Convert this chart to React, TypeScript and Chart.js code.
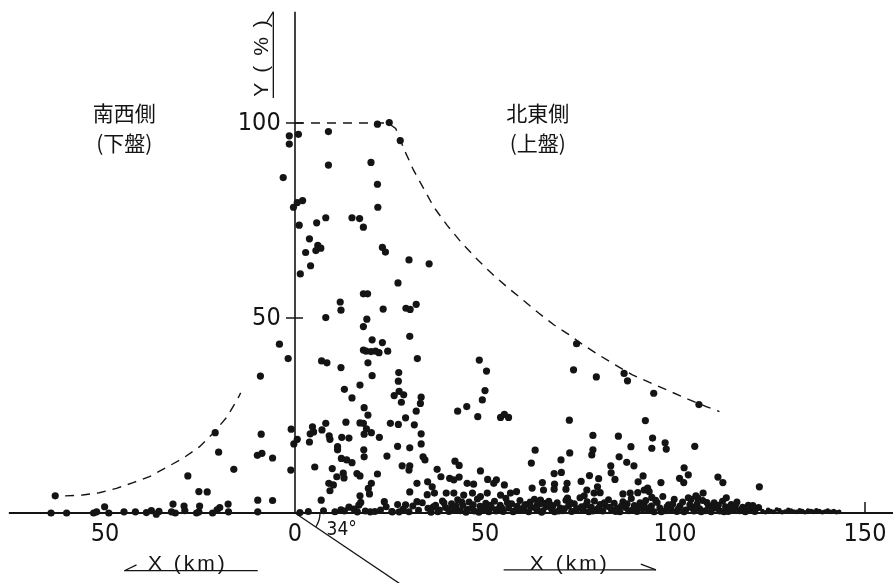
import React, { useEffect, useRef } from "react";
import { Chart, registerables } from "chart.js";

Chart.register(...registerables);

type P = [number, number];

// Axis ranges (X in km, Y in %)
const xRange = { min: -77.63, max: 157.37 };
const yRange = { min: -17.95, max: 131.54 };
const xTickValues = [-50, 0, 50, 100, 150];
const yTickValues = [50, 100];

// Dashed envelopes
const envelopeNE: P[] = [
  [0, 100], [24.5, 100], [26.5, 98.6], [29, 92.6], [31.2, 87.9], [33.4, 84], [36.5, 78.5],
  [40, 73.8], [44, 69.1], [48, 65], [52, 61.2], [56, 57.8], [60, 54.6], [64.2, 51.2],
  [68.2, 48.2], [72, 45.8], [76, 43], [80, 40.5], [84.4, 37.9], [88.8, 35.4], [93.7, 33.3],
  [98.9, 31.1], [103.4, 29.2], [108.2, 27.3], [111.7, 26],
];
const envelopeSW: P[] = [
  [-60.5, 4.4], [-55.9, 4.6], [-51.5, 5.2], [-47, 6.3], [-42.6, 7.8], [-38.3, 9.3],
  [-33.8, 11.7], [-29.5, 14], [-25.1, 17], [-21.6, 20.4], [-18, 24.5], [-15, 29.4], [-14.3, 30.8],
];

// Axis lines, fault (dip) line and angle arc
const xAxisLine: P[] = [[-75.3, 0], [157.37, 0]];
const yAxisLine: P[] = [[0, 0], [0, 128.5]];
const dipLine: P[] = [[0, 0], [28, -18.4]];
const dipArc: P[] = [[6.58, 0], [6.48, -1.11], [6.18, -2.19], [5.7, -3.21], [5.45, -3.58]];

// North-east side (hanging wall) observations
const pointsNE: P[] = [
  [21.7, 99.7], [24.8, 100.1], [27.7, 95.5], [8.8, 97.8], [0.9, 97.1], [8.8, 89.2], [20.0, 89.9],
  [21.7, 84.3], [2.0, 80.1], [0.6, 79.6], [21.8, 78.4], [8.1, 75.7], [15.0, 75.7], [17.0, 75.5],
  [18.0, 73.3], [5.7, 74.4], [1.1, 73.8], [3.8, 70.3], [6.0, 68.6], [6.8, 67.9], [5.5, 67.3],
  [2.8, 66.8], [23.0, 68.1], [23.8, 66.9], [30.0, 64.9], [35.3, 63.9], [4.1, 63.4], [1.4, 61.3],
  [27.1, 59.0], [18.0, 56.2], [19.1, 56.2], [11.9, 54.1], [12.1, 52.0], [31.9, 53.5], [29.2, 52.5],
  [30.3, 52.2], [23.2, 52.3], [8.1, 50.1], [18.9, 49.7], [18.0, 47.8],
  [30.2, 45.3], [20.3, 44.4], [23.0, 43.7], [18.0, 41.8], [18.7, 41.5], [20.0, 41.4], [21.2, 41.5],
  [22.1, 41.1], [24.4, 41.5], [7.0, 39.0], [8.4, 38.5], [19.2, 38.5], [32.2, 39.6], [12.1, 37.3],
  [20.3, 35.2], [27.3, 36.0], [27.2, 33.8], [13.0, 31.7], [17.1, 32.8], [15.0, 29.5], [26.1, 30.1],
  [27.4, 31.2], [28.6, 30.3], [28.0, 28.4], [33.2, 29.7], [33.0, 28.1], [18.2, 27.0], [19.2, 25.1],
  [31.9, 26.1], [29.1, 24.4], [48.5, 39.2], [50.4, 36.4], [50.0, 31.4], [49.3, 29.0], [42.8, 26.1],
  [45.2, 27.3], [48.1, 24.7], [54.1, 24.5], [55.1, 25.3], [56.2, 24.5],
  [4.6, 22.1], [4.0, 20.3], [4.9, 20.8], [8.1, 23.0], [7.1, 21.3], [9.0, 19.8], [13.4, 23.3],
  [17.1, 23.1], [18.0, 23.0], [18.8, 21.6], [20.1, 20.6], [18.2, 20.2], [25.1, 23.0], [27.2, 22.7],
  [31.4, 22.6], [33.2, 20.3], [22.2, 19.4], [12.3, 19.4], [14.2, 19.2], [3.8, 18.2], [9.2, 18.9],
  [0.6, 18.9], [11.2, 17.0], [11.2, 16.2], [18.1, 16.2], [18.2, 14.4], [27.0, 17.1], [30.2, 16.7],
  [33.2, 17.7], [24.2, 14.6], [33.7, 14.4], [34.2, 13.6], [12.2, 14.0], [13.6, 13.6], [15.0, 12.9],
  [5.2, 11.8], [9.8, 11.4], [12.7, 10.2], [12.9, 9.0], [11.0, 9.3], [16.3, 10.1], [17.1, 9.5],
  [21.7, 10.0], [28.2, 12.1], [30.2, 12.1], [30.0, 11.0], [42.1, 13.3], [43.2, 12.2], [37.4, 11.2],
  [38.4, 9.3], [40.7, 8.9], [41.8, 8.5], [43.2, 9.2], [48.8, 10.8], [50.7, 8.6], [53.0, 8.5],
  [55.1, 7.2], [8.9, 7.6], [10.1, 7.2], [9.2, 5.7], [20.1, 7.6], [32.1, 7.6], [34.9, 8.0],
  [30.2, 5.4], [19.3, 6.3], [19.6, 4.9], [17.1, 4.4], [17.3, 2.7], [16.8, 2.0], [6.9, 3.3],
  [23.5, 2.9], [29.1, 2.1], [36.1, 6.7], [36.7, 5.1], [34.8, 4.7], [39.8, 5.1], [41.8, 5.1],
  [45.3, 7.6], [47.0, 7.4], [44.4, 4.6], [46.7, 5.1], [48.8, 4.2], [50.6, 5.1], [52.3, 7.6],
  [54.1, 4.6], [56.7, 5.1], [32.1, 2.9], [12.1, 0.8], [14.2, 1.5], [16.4, 0.3], [19.8, 0.3],
  [25.6, 0.3], [27.4, 0.3], [1.3, 0.1],
  [74.1, 43.4], [73.3, 36.7], [79.3, 34.9], [86.6, 35.8], [87.5, 33.9], [94.4, 30.7], [106.3, 27.8],
  [72.2, 23.8], [92.2, 23.7], [78.4, 19.9], [85.1, 19.7], [63.2, 16.1], [72.3, 15.4], [78.4, 16.2],
  [78.1, 14.9], [88.4, 17.0], [94.1, 19.2], [93.9, 16.6], [97.4, 18.0], [97.7, 16.4], [105.2, 17.1],
  [62.2, 12.8], [70.0, 13.6], [85.3, 14.4], [87.3, 13.0], [89.2, 12.1], [83.1, 12.1], [83.2, 10.3],
  [102.4, 11.6], [68.2, 10.1], [70.1, 10.4], [77.5, 9.6], [79.9, 8.8], [84.2, 8.6], [91.6, 9.5],
  [90.3, 8.0], [101.2, 8.9], [103.5, 9.8], [102.3, 7.8], [111.3, 9.2], [112.6, 7.8], [96.3, 7.8],
  [75.3, 8.1], [65.1, 7.8], [65.4, 5.9], [68.3, 7.4], [68.2, 6.1], [71.6, 7.6], [71.3, 6.1],
  [58.3, 5.5], [62.4, 6.4], [76.8, 5.9], [76.1, 4.4], [78.7, 5.1], [79.6, 6.7], [80.3, 5.2],
  [86.3, 4.9], [88.2, 5.1], [90.2, 5.2], [91.9, 5.9], [92.8, 6.4], [93.9, 4.0], [93.2, 5.5],
  [107.4, 5.1], [105.5, 4.4], [104.2, 3.5], [106.0, 3.8], [113.5, 3.9], [122.2, 6.7], [64.6, 3.3],
  [66.0, 2.5], [63.8, 2.1], [71.7, 3.8], [72.2, 2.5],
];

// Dense band of low values on the north-east side
const bandPoints: P[] = [
  [3.5, 0.4], [7.5, 0.6], [10.5, 0.3], [13, 0.5], [15.5, 1.0], [18.5, 0.5], [21, 0.4],
  [22.5, 0.8], [24, 1.6], [25.5, 0.4], [27, 2.2], [28.5, 1.0], [30, 0.3], [31, 1.8], [32.5, 0.7],
  [33.5, 2.6], [35, 1.2], [35.8, 0.2], [37, 2.0], [38, 0.8], [38.8, 3.1], [39.6, 1.4], [40.5, 0.4],
  [41.2, 2.4], [42, 1.0], [42.8, 3.4], [43.5, 0.6], [44.2, 1.9], [45, 0.2], [45.8, 2.8], [46.5, 1.2],
  [47.2, 0.5], [48, 3.6], [48.7, 1.7], [49.5, 0.8], [50.2, 2.5], [51, 0.3], [51.7, 1.4], [52.5, 3.0],
  [53.2, 0.9], [54, 2.0], [54.8, 0.4], [55.5, 3.8], [56.2, 1.3], [57, 2.4], [57.8, 0.6], [58.5, 1.7],
  [59.2, 3.2], [60, 0.9], [60.7, 2.2], [61.5, 0.3], [62.2, 1.5], [63, 3.5], [63.7, 0.8], [64.4, 2.3],
  [65.2, 0.5], [66, 1.6], [66.8, 3.0], [67.5, 1.0], [68.3, 0.3], [69, 2.6], [69.8, 1.3], [70.5, 0.6],
  [71.3, 3.3], [72, 1.8], [72.8, 0.4], [73.5, 2.4], [74.3, 1.1], [75, 3.9], [75.8, 0.7], [76.5, 2.0],
  [77.3, 0.3], [78, 1.5], [78.8, 3.1], [79.5, 0.9], [80.3, 2.2], [81, 0.5], [81.8, 1.7], [82.5, 3.4],
  [83.3, 0.8], [84, 2.5], [84.8, 1.2], [85.5, 0.3], [86.3, 2.9], [87, 1.4], [87.8, 0.6], [88.5, 3.7],
  [89.3, 1.9], [90, 0.4], [90.8, 2.6], [91.5, 1.1], [92.3, 3.2], [93, 0.7], [93.8, 1.8], [94.5, 0.3],
  [95.3, 2.7], [96, 1.3], [96.8, 4.2], [97.5, 0.6], [98.3, 2.1], [99, 1.0], [99.8, 3.5], [100.5, 0.4],
  [101.3, 1.8], [102, 2.8], [102.8, 0.8], [103.5, 3.9], [104.3, 1.4], [105, 0.5], [105.8, 2.3],
  [106.5, 1.1], [107.3, 3.2], [108, 0.6], [108.8, 1.9], [109.5, 0.3], [110.3, 2.6], [111, 1.2],
  [111.8, 0.5], [112.5, 3.0], [113.3, 1.6], [114, 0.4], [114.8, 2.2], [115.5, 1.0], [116.3, 2.8],
  [117, 0.6], [117.8, 1.5], [118.5, 0.3], [119.3, 2.0], [120, 0.9], [121, 0.4], [122, 1.4],
  [36.4, 1.6], [37.6, 0.3], [39.2, 2.6], [40.9, 1.0], [42.4, 1.8], [43.9, 2.8], [45.4, 0.9],
  [46.9, 2.1], [48.4, 0.2], [49.9, 1.2], [51.4, 2.0], [52.9, 0.5], [54.4, 1.3], [55.9, 2.6],
  [57.4, 0.3], [58.9, 1.0], [60.4, 1.7], [61.9, 2.8], [63.4, 1.2], [64.9, 0.2], [66.4, 2.2],
  [67.9, 1.9], [69.4, 0.5], [70.9, 1.1], [72.4, 2.7], [73.9, 0.8], [75.4, 1.6], [76.9, 2.9],
  [78.4, 0.5], [79.9, 1.3], [81.4, 2.6], [82.9, 1.5], [84.4, 0.4], [85.9, 1.8], [87.4, 2.4],
  [88.9, 0.9], [90.4, 1.6], [91.9, 2.0], [93.4, 1.3], [94.9, 3.3], [96.4, 0.3], [97.9, 1.6],
  [99.4, 2.3], [100.9, 1.1], [102.4, 0.3], [103.9, 2.1], [105.4, 1.6], [106.9, 0.3], [108.4, 2.7],
  [109.9, 1.3], [111.4, 2.0], [112.9, 0.3], [114.4, 1.3], [115.9, 2.0], [117.4, 0.9], [118.9, 1.1],
  [120.5, 1.9],
];

// Sparse small trail far from the fault
const trailPoints: P[] = [
  [123, 0.5], [123.8, 0.2], [124.5, 0.8], [125.2, 0.5], [126, 0.3], [126.8, 0.9], [127.5, 0.7],
  [128.2, 0.2], [129, 0.4], [129.8, 0.8], [130.5, 0.6], [131.2, 0.4], [132, 0.3], [132.8, 0.7],
  [133.5, 0.5], [134.2, 0.2], [135, 0.6], [135.8, 0.5], [136.5, 0.3], [137.2, 0.7], [138, 0.5],
  [138.8, 0.2], [139.5, 0.4], [140.2, 0.6], [141, 0.3], [141.8, 0.5], [142.5, 0.2], [143.2, 0.3],
];

// South-west side (footwall) observations
const pointsSW: P[] = [
  [-1.5, 96.7], [-1.5, 94.6], [-3.1, 86.0], [-0.4, 78.4], [-4.1, 43.3], [-1.8, 39.6], [-9.1, 35.1],
  [-8.9, 20.2], [-1.0, 21.5], [-0.3, 17.7], [-9.9, 14.8], [-8.7, 15.3], [-5.9, 14.1], [-1.1, 11.0],
  [-21.0, 20.6], [-20.1, 15.6], [-16.1, 11.2], [-28.2, 9.5], [-25.3, 5.5], [-23.1, 5.4], [-9.8, 3.3],
  [-5.9, 3.2], [-63.1, 4.4], [-64.2, 0], [-60.1, 0], [-53.0, 0], [-52.2, 0.3], [-50.1, 1.6],
  [-49.0, 0], [-45.0, 0.3], [-42.0, 0.3], [-39.1, 0.1], [-37.8, 0.6], [-36.5, -0.3], [-35.8, 0.4],
  [-32.1, 2.3], [-32.5, 0.3], [-31.5, 0], [-29.2, 1.8], [-29.0, 0.6], [-25.1, 1.8], [-25.3, 0.3],
  [-25.9, 0], [-21.7, 0], [-20.5, 0.8], [-19.8, 1.4], [-17.6, 2.3], [-17.5, 0.3], [-9.8, 0.3],
];

const sideLabels = [
  { text: "南西側", x: -44.9, y: 102.6 },
  { text: "(下盤)", x: -44.9, y: 94.9 },
  { text: "北東側", x: 63.9, y: 102.6 },
  { text: "(上盤)", x: 63.9, y: 94.9 },
];

const INK = "#141414";
const NARROW = '"DejaVu Sans Condensed", "Liberation Sans Narrow", sans-serif';

const toXY = (arr: P[]) => arr.map(([x, y]) => ({ x, y }));

const decorations = {
  id: "decorations",
  afterDatasetsDraw(chart: any) {
    const ctx: CanvasRenderingContext2D = chart.ctx;
    const xs = chart.scales.x;
    const ys = chart.scales.y;
    const X = (v: number) => xs.getPixelForValue(v);
    const Y = (v: number) => ys.getPixelForValue(v);
    const seg = (x1: number, y1: number, x2: number, y2: number) => {
      ctx.beginPath();
      ctx.moveTo(x1, y1);
      ctx.lineTo(x2, y2);
      ctx.stroke();
    };
    ctx.save();
    ctx.strokeStyle = INK;
    ctx.fillStyle = INK;
    ctx.lineWidth = 1.5;

    // y tick crosses
    for (const v of yTickValues) seg(X(0) - 9, Y(v), X(0) + 8, Y(v));
    // small upward tick at 150
    seg(X(150), Y(0), X(150), Y(0) - 11);

    // side labels
    ctx.font = '21px "Noto Sans CJK JP", sans-serif';
    ctx.textAlign = "center";
    ctx.textBaseline = "middle";
    sideLabels.forEach((l) => ctx.fillText(l.text, X(l.x), Y(l.y)));

    // dip angle
    ctx.font = `19px ${NARROW}`;
    ctx.fillText("34°", X(12.3), Y(-4.4));

    // X (km) captions
    ctx.font = '21px "Liberation Sans", sans-serif';
    (ctx as any).letterSpacing = "3px";
    ctx.fillText("X (km)", X(-28.2), Y(-13.1));
    ctx.fillText("X (km)", X(72.3), Y(-13.1));
    (ctx as any).letterSpacing = "0px";
    ctx.lineWidth = 1.3;
    seg(X(-44.9), Y(-14.8), X(-9.8), Y(-14.8));
    seg(X(-44.9), Y(-14.8), X(-41.7), Y(-13.3));
    seg(X(54.9), Y(-14.6), X(95.0), Y(-14.6));
    seg(X(95.0), Y(-14.6), X(91.0), Y(-13.1));

    // Y (%) caption, rotated, reading upward from its start
    ctx.save();
    ctx.translate(X(-8.6), Y(106.7));
    ctx.rotate(-Math.PI / 2);
    ctx.font = '21px "Liberation Sans", sans-serif';
    ctx.textAlign = "left";
    (ctx as any).letterSpacing = "10px";
    ctx.fillText("Y(%)", 0, 0);
    ctx.restore();
    seg(X(-5.7), Y(106.4), X(-5.7), Y(128.5));
    seg(X(-5.7), Y(128.5), X(-7.4), Y(125.9));

    ctx.restore();
  },
};

const noSpace = (horizontal: boolean) => (s: any) => {
  if (horizontal) s.height = 0;
  else s.width = 0;
  s.paddingTop = 0;
  s.paddingBottom = 0;
  s.paddingLeft = 0;
  s.paddingRight = 0;
};

export default function App() {
  const ref = useRef<HTMLCanvasElement>(null);

  useEffect(() => {
    if (!ref.current) return;
    const lineDs = (data: P[], width: number, dash: number[] = []) => ({
      data: toXY(data),
      showLine: true,
      pointRadius: 0,
      borderColor: INK,
      borderWidth: width,
      borderDash: dash,
      fill: false,
      tension: 0,
    });
    const dotDs = (data: P[], r: number) => ({
      data: toXY(data),
      showLine: false,
      pointRadius: r,
      pointBackgroundColor: INK,
      pointBorderColor: INK,
      pointBorderWidth: 0,
    });
    const chart = new Chart(ref.current, {
      type: "scatter",
      data: {
        datasets: [
          lineDs(envelopeNE, 1.4, [9, 7]),
          lineDs(envelopeSW, 1.4, [9, 7]),
          lineDs(xAxisLine, 2),
          lineDs(yAxisLine, 1.6),
          lineDs(dipLine, 1.3),
          { ...lineDs(dipArc, 1.3), tension: 0.4 },
          dotDs(trailPoints, 2.3),
          dotDs(bandPoints, 3.5),
          dotDs(pointsNE, 3.6),
          dotDs(pointsSW, 3.6),
        ] as any,
      },
      options: {
        animation: false,
        responsive: false,
        devicePixelRatio: 1,
        events: [],
        layout: { padding: 0, autoPadding: false } as any,
        plugins: { legend: { display: false }, tooltip: { enabled: false } },
        scales: {
          x: {
            type: "linear",
            min: xRange.min,
            max: xRange.max,
            position: { y: 0 } as any,
            grid: { display: false, drawTicks: false },
            border: { display: false },
            afterBuildTicks: (s: any) => {
              s.ticks = xTickValues.map((v) => ({ value: v }));
            },
            afterFit: noSpace(true),
            ticks: {
              autoSkip: false,
              maxRotation: 0,
              padding: 7,
              color: INK,
              font: { family: NARROW, size: 25 },
              callback: (v: any) => String(Math.abs(Number(v))),
            },
          },
          y: {
            type: "linear",
            min: yRange.min,
            max: yRange.max,
            position: { x: 0 } as any,
            grid: { display: false, drawTicks: false },
            border: { display: false },
            afterBuildTicks: (s: any) => {
              s.ticks = yTickValues.map((v) => ({ value: v }));
            },
            afterFit: noSpace(false),
            ticks: {
              autoSkip: false,
              color: INK,
              font: { family: NARROW, size: 25 },
              callback: (v: any) => String(v) + "  ",
            },
          },
        },
      },
      plugins: [decorations],
    });
    return () => chart.destroy();
  }, []);

  return (
    <div style={{ position: "absolute", left: 0, top: 0, width: 893, height: 583, background: "#fff" }}>
      <canvas ref={ref} width={893} height={583} style={{ display: "block" }} />
    </div>
  );
}
